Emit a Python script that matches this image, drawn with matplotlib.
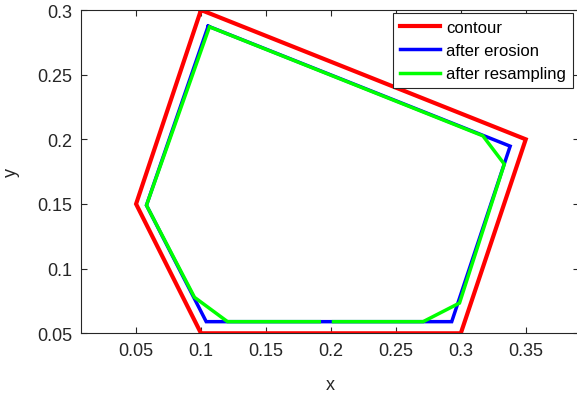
import matplotlib
matplotlib.use("Agg")
import matplotlib.pyplot as plt

contour_x = [0.1, 0.35, 0.3, 0.1, 0.05, 0.1]
contour_y = [0.3, 0.2, 0.05, 0.05, 0.15, 0.3]

erosion_x = [0.1055, 0.338, 0.293, 0.104, 0.058, 0.1055]
erosion_y = [0.2875, 0.1947, 0.059, 0.059, 0.149, 0.2875]

resampled_x = [0.202, 0.271, 0.299, 0.3335, 0.317, 0.1065, 0.058, 0.095, 0.1204, 0.191]
resampled_y = [0.059, 0.059, 0.0734, 0.1808, 0.2027, 0.287, 0.149, 0.0778, 0.059, 0.059]

xticks = [0.05, 0.1, 0.15, 0.2, 0.25, 0.3, 0.35]
xticklabels = ["0.05", "0.1", "0.15", "0.2", "0.25", "0.3", "0.35"]
yticks = [0.05, 0.1, 0.15, 0.2, 0.25, 0.3]
yticklabels = ["0.05", "0.1", "0.15", "0.2", "0.25", "0.3"]

plt.rcParams['font.family'] = ['Liberation Sans', 'DejaVu Sans']

W, H = 577, 402
fig = plt.figure(figsize=(W / 100, H / 100), dpi=100)
left = 81 / W
bottom = (H - 334.3) / H
top = (H - 11) / H
ax = fig.add_axes([left, bottom, 498 / W, top - bottom])

ax.plot(contour_x, contour_y, color='#ff0000', lw=3, label='contour', solid_joinstyle='miter')
ax.plot(erosion_x, erosion_y, color='#0000ff', lw=2.5, label='after erosion', solid_joinstyle='miter')
ax.plot(resampled_x, resampled_y, color='#00ff00', lw=2.5, label='after resampling', solid_joinstyle='miter')

ax.set_xlim(0.0076, 0.391)
ax.set_ylim(0.05, 0.3)
ax.set_xticks(xticks)
ax.set_xticklabels(xticklabels)
ax.set_yticks(yticks)
ax.set_yticklabels(yticklabels)

tc = '#262626'
ax.tick_params(direction='in', length=4, width=0.8, colors=tc, labelsize=13,
               top=True, right=True, pad=6)
for s in ax.spines.values():
    s.set_color(tc)
    s.set_linewidth(0.8)

ax.set_xlabel('x', fontsize=13, color=tc)
ax.set_ylabel('y', fontsize=13, color=tc)
ax.xaxis.set_label_coords(0.5, -(377 - 334.3) / 323.3)
ax.yaxis.set_label_coords((20 - 81) / 498, 0.5)

leg = ax.legend(loc='upper right', bbox_to_anchor=(573 / W, (H - 14) / H),
                bbox_transform=fig.transFigure, borderaxespad=0, fontsize=12,
                handlelength=2.4, handletextpad=0.4, labelspacing=0.5,
                borderpad=0.4, fancybox=False, framealpha=1, edgecolor=tc)
leg.get_frame().set_linewidth(0.8)

fig.savefig('out.png', dpi=100)
